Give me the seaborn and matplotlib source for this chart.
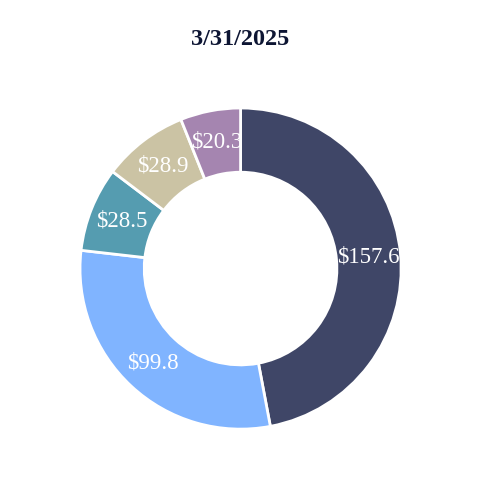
import matplotlib
matplotlib.use("Agg")
import matplotlib.pyplot as plt
import seaborn as sns

# data (clockwise from 12 o'clock)
values = [157.6, 99.8, 28.5, 28.9, 20.3]
colors = ["#3f4667", "#80b4ff", "#559cb0", "#cbc3a4", "#a585b0"]
title = "3/31/2025"

sns.set_theme(style="white")
plt.rcParams["font.family"] = ["Liberation Serif", "DejaVu Serif"]

total = sum(values)

fig = plt.figure(figsize=(4.8, 4.8), dpi=100)
ax = fig.add_axes([0.1667, 0.106, 0.669, 0.669])

wedges, texts, autotexts = ax.pie(
    values,
    colors=colors,
    startangle=90,
    counterclock=False,
    radius=1.0,
    autopct=lambda p: f"${p * total / 100:.1f}",
    pctdistance=0.8,
    wedgeprops=dict(width=0.4, edgecolor="white", linewidth=2),
    textprops=dict(color="white", fontsize=16.5),
)
ax.set_xlim(-1, 1)
ax.set_ylim(-1, 1)
ax.set_aspect("equal")
ax.axis("off")

fig.text(0.5, 0.917, title, ha="center", va="center",
         fontsize=17.5, fontweight="bold", color="#0d1533")

fig.savefig("out.png", dpi=100, facecolor="white")
